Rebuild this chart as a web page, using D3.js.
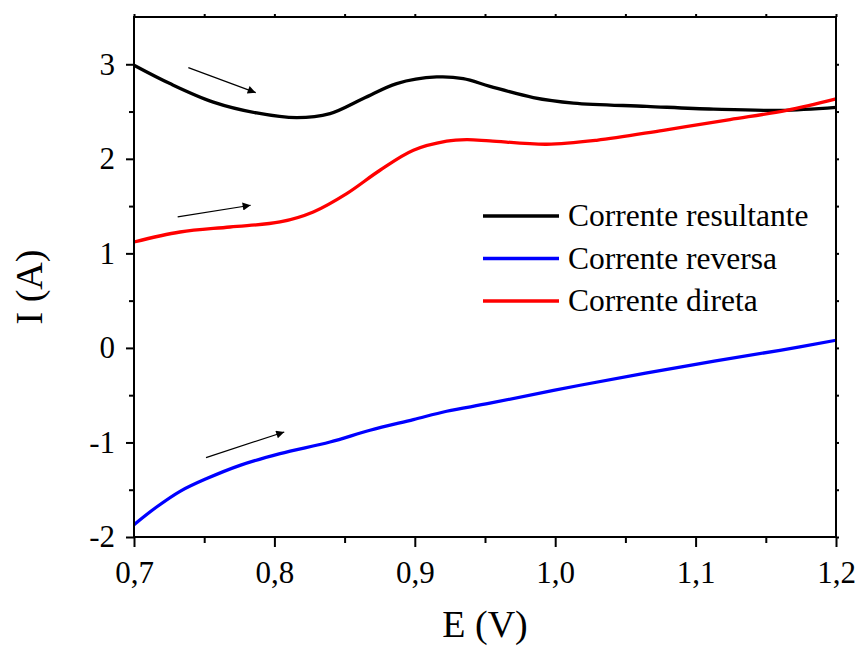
<!DOCTYPE html>
<html>
<head>
<meta charset="utf-8">
<script src="https://cdn.jsdelivr.net/npm/d3@7"></script>
<style>
  body { margin: 0; background: #fff; }
  text { font-family: "Liberation Serif", "Times New Roman", serif; }
</style>
</head>
<body>
<div id="chart"></div>
<script>
// values
const E_RESULT = [0.700, 0.7256, 0.7565, 0.7874, 0.8159, 0.8396, 0.8633, 0.8871, 0.9156, 0.9345, 0.9535, 0.9844, 1.013, 1.0652, 1.1127, 1.1601, 1.200]
const I_RESULT = [2.99, 2.796, 2.600, 2.485, 2.435, 2.478, 2.637, 2.796, 2.866, 2.849, 2.767, 2.648, 2.590, 2.555, 2.525, 2.513, 2.545]

const E_REV = [0.700, 0.7161, 0.7328, 0.7518, 0.7755, 0.804, 0.8396, 0.8681, 0.899, 0.9227, 0.9535, 1.0177, 1.0889, 1.1601, 1.200]
const I_REV = [-1.87, -1.683, -1.517, -1.382, -1.242, -1.118, -0.995, -0.871, -0.758, -0.670, -0.585, -0.395, -0.202, -0.025, 0.081]

const E_DIR = [0.700, 0.7328, 0.7684, 0.804, 0.8277, 0.8515, 0.8752, 0.899, 0.9227, 0.9369, 0.9535, 0.9939, 1.0295, 1.077, 1.1245, 1.1648, 1.200]
const I_DIR = [1.12, 1.226, 1.279, 1.332, 1.438, 1.632, 1.879, 2.090, 2.186, 2.203, 2.190, 2.154, 2.196, 2.302, 2.415, 2.513, 2.635]

const seriesNames = ['Corrente resultante', 'Corrente reversa', 'Corrente direta']
const seriesColors = ['#000000', '#0000ff', '#ff0000']

const xMajor = [0.7, 0.8, 0.9, 1.0, 1.1, 1.2]
const xMinor = [0.75, 0.85, 0.95, 1.05, 1.15]
const yMajor = [-2, -1, 0, 1, 2, 3]
const yMinor = [-1.5, -0.5, 0.5, 1.5, 2.5]

// direction arrows: [x1, y1, x2, y2] in data units
const arrows = [
  [0.7387, 2.965, 0.7867, 2.700],
  [0.7311, 1.385, 0.7831, 1.509],
  [0.7513, -1.160, 0.8070, -0.889]
]

const width = 860, height = 647
const margin = {left: 134, top: 17, right: 24, bottom: 110}
const plotW = width - margin.left - margin.right
const plotH = height - margin.top - margin.bottom

const svg = d3.select('#chart').append('svg')
    .attr('width', width)
    .attr('height', height)

svg.append('defs').append('marker')
    .attr('id', 'head')
    .attr('viewBox', '0 0 10 10')
    .attr('refX', 10).attr('refY', 5)
    .attr('markerWidth', 11).attr('markerHeight', 8)
    .attr('markerUnits', 'userSpaceOnUse')
    .attr('orient', 'auto')
  .append('path')
    .attr('d', 'M0,0 L10,5 L0,10 z')
    .attr('fill', '#000')

const g = svg.append('g')
    .attr('transform', `translate(${margin.left},${margin.top})`)

const x = d3.scaleLinear().domain([0.7, 1.2]).range([0, plotW])
const y = d3.scaleLinear().domain([-2, 3.5]).range([plotH, 0])

const fmtX = d => d3.format('.1f')(d).replace('.', ',')

// curves
const line = d3.line()
    .x(d => x(d[0]))
    .y(d => y(d[1]))
    .curve(d3.curveCatmullRom.alpha(0.5))

const series = [
  d3.zip(E_RESULT, I_RESULT),
  d3.zip(E_REV, I_REV),
  d3.zip(E_DIR, I_DIR)
]

series.forEach((s, i) => {
  g.append('path')
    .datum(s)
    .attr('d', line)
    .attr('fill', 'none')
    .attr('stroke', seriesColors[i])
    .attr('stroke-width', 3.3)
})

// arrows
g.selectAll('.arrow')
  .data(arrows)
  .enter().append('line')
    .attr('class', 'arrow')
    .attr('x1', d => x(d[0]))
    .attr('y1', d => y(d[1]))
    .attr('x2', d => x(d[2]))
    .attr('y2', d => y(d[3]))
    .attr('stroke', '#000')
    .attr('stroke-width', 1.2)
    .attr('marker-end', 'url(#head)')

// frame
g.append('rect')
    .attr('width', plotW).attr('height', plotH)
    .attr('fill', 'none')
    .attr('stroke', '#000')
    .attr('stroke-width', 2)

function styleAxis(sel) {
  sel.select('.domain').remove()
  sel.selectAll('line').attr('stroke', '#000').attr('stroke-width', 2)
  sel.selectAll('text').attr('fill', '#000').style('font-size', '31px')
}

// bottom axis
g.append('g')
    .attr('transform', `translate(0,${plotH})`)
    .call(d3.axisBottom(x).tickValues(xMajor).tickFormat(fmtX).tickSize(10).tickPadding(14))
    .call(styleAxis)
g.append('g')
    .attr('transform', `translate(0,${plotH})`)
    .call(d3.axisBottom(x).tickValues(xMinor).tickFormat('').tickSize(6))
    .call(styleAxis)

// top ticks (tiny)
g.append('g')
    .call(d3.axisTop(x).tickValues(xMajor.concat(xMinor)).tickFormat('').tickSize(3))
    .call(styleAxis)

// left axis
g.append('g')
    .call(d3.axisLeft(y).tickValues(yMajor).tickFormat(d => String(d)).tickSize(8).tickPadding(11))
    .call(styleAxis)
g.append('g')
    .call(d3.axisLeft(y).tickValues(yMinor).tickFormat('').tickSize(5))
    .call(styleAxis)

// right ticks (tiny)
g.append('g')
    .attr('transform', `translate(${plotW},0)`)
    .call(d3.axisRight(y).tickValues(yMajor.concat(yMinor)).tickFormat('').tickSize(3))
    .call(styleAxis)

// axis titles
svg.append('text')
    .attr('x', margin.left + plotW / 2)
    .attr('y', 637)
    .attr('text-anchor', 'middle')
    .style('font-size', '38px')
    .text('E (V)')

svg.append('text')
    .attr('transform', `translate(42,${margin.top + plotH / 2 + 10}) rotate(-90)`)
    .attr('text-anchor', 'middle')
    .style('font-size', '38px')
    .text('I (A)')

// legend
const legend = g.append('g')
    .attr('transform', `translate(${483 - margin.left},${216 - margin.top})`)

const item = legend.selectAll('.item')
  .data(seriesNames)
  .enter().append('g')
    .attr('class', 'item')
    .attr('transform', (d, i) => `translate(0,${i * 42.5})`)

item.append('line')
    .attr('x1', 0).attr('x2', 76)
    .attr('stroke', (d, i) => seriesColors[i])
    .attr('stroke-width', 3.3)

item.append('text')
    .attr('x', 85)
    .attr('y', 10)
    .style('font-size', '31.5px')
    .text(d => d)
</script>
</body>
</html>
